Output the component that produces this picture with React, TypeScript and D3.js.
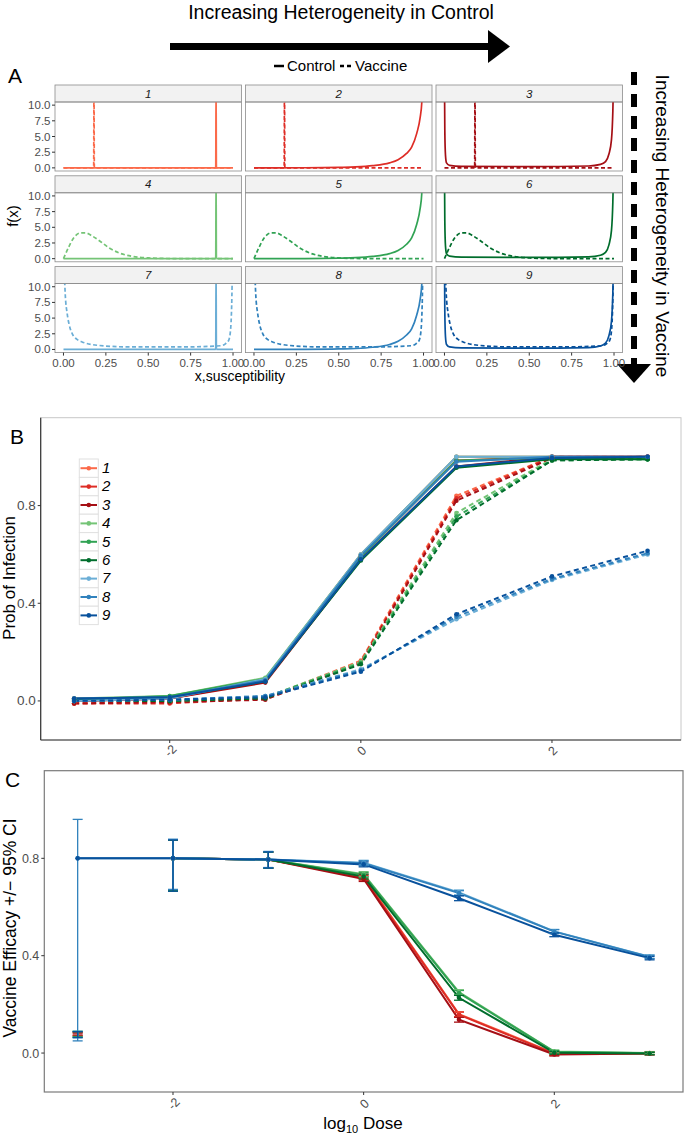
import React from "react";
import * as d3 from "d3";

const FONT = "'Liberation Sans', Arial, Helvetica, sans-serif";

// scenario labels and colours (reds / greens / blues)
const groups = ["1", "2", "3", "4", "5", "6", "7", "8", "9"];
const groupColors = ["#fb6a4a", "#de2d26", "#a50f15", "#74c476", "#31a354", "#006d2c", "#6baed6", "#3182bd", "#08519c"];

const ctrlPointMass = [[0, 0], [0.898, 0], [0.9, 14], [0.902, 0], [1, 0]];
const ctrlJShape = [[0, 0], [0.3, 0.02], [0.5, 0.08], [0.6, 0.15], [0.7, 0.35], [0.8, 0.8], [0.85, 1.3], [0.9, 2.3], [0.93, 3.3], [0.96, 5.5], [0.98, 8], [0.99, 10.5], [0.995, 14]];
const ctrlUShape = [[0.0, 14], [0.002, 6], [0.006, 2], [0.012, 0.8], [0.03, 0.4], [0.1, 0.25], [0.5, 0.2], [0.85, 0.3], [0.92, 0.55], [0.95, 1], [0.97, 2.2], [0.985, 4.5], [0.993, 9], [0.997, 14]];
const vaccPointMass = [[0, 0], [0.178, 0], [0.18, 14], [0.182, 0], [1, 0]];
const vaccBeta = [[0, 0], [0.03, 1.8], [0.06, 3.3], [0.1, 4.1], [0.13, 4.1], [0.17, 3.6], [0.22, 2.7], [0.27, 1.7], [0.33, 0.9], [0.4, 0.4], [0.5, 0.12], [0.6, 0.03], [0.75, 0], [1, 0]];
const vaccUShape = [[0.003, 14], [0.01, 9], [0.022, 5.7], [0.035, 3.8], [0.052, 2.5], [0.08, 1.6], [0.11, 1.2], [0.21, 0.64], [0.4, 0.4], [0.7, 0.4], [0.93, 0.6], [0.955, 0.9], [0.975, 1.5], [0.985, 3], [0.992, 7], [0.997, 14]];
const ctrlByColumn = [ctrlPointMass, ctrlJShape, ctrlUShape];
const vaccByRow = [vaccPointMass, vaccBeta, vaccUShape];
const densTicksY = [0, 2.5, 5, 7.5, 10];
const densTicksX = [0, 0.25, 0.5, 0.75, 1];

// panels B and C
const doses = [-3, -2, -1, 0, 1, 2, 3];
const doseTicks = [-2, 0, 2];
const probTicks = [0, 0.4, 0.8];

const probControl = [
  [0.01, 0.015, 0.09, 0.6, 1.0, 1.0, 1.0],
  [0.0, 0.01, 0.08, 0.59, 0.985, 1.0, 1.0],
  [0.0, 0.01, 0.075, 0.58, 0.96, 1.0, 1.0],
  [0.01, 0.02, 0.095, 0.6, 1.0, 1.0, 0.995],
  [0.005, 0.02, 0.09, 0.59, 0.985, 0.995, 0.99],
  [0.005, 0.015, 0.08, 0.575, 0.955, 0.99, 0.99],
  [0.0, 0.01, 0.09, 0.6, 1.0, 1.0, 1.0],
  [0.01, 0.015, 0.085, 0.595, 0.98, 1.0, 1.0],
  [0.01, 0.015, 0.08, 0.58, 0.96, 0.995, 1.0],
];
const probVaccine = [
  [-0.01, -0.005, 0.01, 0.165, 0.84, 1.0, 1.0],
  [-0.01, -0.01, 0.01, 0.16, 0.83, 1.0, 0.995],
  [-0.01, -0.005, 0.005, 0.155, 0.82, 0.995, 1.0],
  [0.0, 0.0, 0.015, 0.16, 0.77, 0.99, 0.99],
  [0.0, 0.0, 0.015, 0.155, 0.755, 0.985, 0.99],
  [0.0, 0.0, 0.01, 0.15, 0.74, 0.985, 0.99],
  [0.0, 0.005, 0.02, 0.13, 0.335, 0.495, 0.6],
  [0.0, 0.005, 0.02, 0.125, 0.345, 0.5, 0.605],
  [0.0, 0.005, 0.015, 0.12, 0.355, 0.51, 0.615],
];

const veMean = [
  [null, 0.8, 0.795, 0.725, 0.16, 0.0, 0.0],
  [null, 0.8, 0.795, 0.72, 0.158, -0.003, -0.002],
  [null, 0.8, 0.795, 0.715, 0.137, -0.006, -0.002],
  [null, 0.8, 0.795, 0.735, 0.25, 0.006, 0.0],
  [null, 0.8, 0.795, 0.732, 0.247, 0.005, -0.001],
  [null, 0.8, 0.795, 0.725, 0.227, 0.001, -0.002],
  [null, 0.8, 0.795, 0.782, 0.66, 0.5, 0.396],
  [0.8, 0.8, 0.795, 0.78, 0.657, 0.499, 0.395],
  [0.8, 0.8, 0.795, 0.775, 0.636, 0.486, 0.39],
];
const veLo = [
  [0.07, 0.668, 0.76, 0.715, 0.15, -0.008, -0.006],
  [0.072, 0.668, 0.76, 0.71, 0.148, -0.01, -0.007],
  [0.074, 0.668, 0.76, 0.705, 0.127, -0.012, -0.007],
  [0.068, 0.666, 0.76, 0.725, 0.24, 0.0, -0.005],
  [0.066, 0.666, 0.76, 0.722, 0.237, -0.001, -0.006],
  [0.064, 0.666, 0.76, 0.715, 0.217, -0.005, -0.007],
  [0.062, 0.672, 0.762, 0.772, 0.65, 0.492, 0.389],
  [0.05, 0.672, 0.762, 0.77, 0.647, 0.491, 0.388],
  [0.064, 0.665, 0.76, 0.765, 0.626, 0.478, 0.383],
];
const veHi = [
  [0.086, 0.875, 0.826, 0.735, 0.17, 0.008, 0.006],
  [0.084, 0.875, 0.826, 0.73, 0.168, 0.004, 0.003],
  [0.082, 0.875, 0.826, 0.725, 0.147, 0.0, 0.003],
  [0.088, 0.876, 0.826, 0.745, 0.26, 0.012, 0.005],
  [0.09, 0.876, 0.826, 0.742, 0.257, 0.011, 0.004],
  [0.088, 0.876, 0.826, 0.735, 0.237, 0.007, 0.003],
  [0.09, 0.878, 0.828, 0.792, 0.67, 0.508, 0.403],
  [0.96, 0.878, 0.828, 0.79, 0.667, 0.507, 0.402],
  [0.088, 0.875, 0.826, 0.785, 0.646, 0.494, 0.397],
];

export default function App() {
  const W = 685,
    H = 1136;

  // panel A facet grid
  const aLeft = 55,
    aStep = 190.5,
    aW = 186.5,
    aTop = 85,
    aRowStep = 90.8,
    stripH = 17,
    plotH = 69;
  const ax = d3.scaleLinear().domain([-0.05, 1.05]).range([0, aW]);
  const ay = d3.scaleLinear().domain([-0.5, 10.5]).range([plotH, 0]);
  const densLine = d3
    .line<number[]>()
    .x(d => ax(d[0]))
    .y(d => ay(d[1]))
    .curve(d3.curveMonotoneX);

  // panels B and C
  const bBox = { l: 40.7, r: 681, t: 417.7, b: 740 };
  const cBox = { l: 44.3, r: 683, t: 770.7, b: 1092 };
  const bx = d3.scaleLinear().domain([-3.35, 3.35]).range([bBox.l, bBox.r]);
  const by = d3.scaleLinear().domain([-0.16, 1.16]).range([bBox.b, bBox.t]);
  const cx = d3.scaleLinear().domain([-3.35, 3.35]).range([cBox.l, cBox.r]);
  const cy = d3.scaleLinear().domain([-0.16, 1.16]).range([cBox.b, cBox.t]);

  const bLine = d3
    .line<number>()
    .x((d, i) => bx(doses[i]))
    .y(d => by(d));
  const cLine = d3
    .line<number | null>()
    .defined(d => d !== null)
    .x((d, i) => cx(doses[i]))
    .y(d => cy(d as number));

  const tickGray = "#4d4d4d";

  return (
    <svg width={W} height={H} style={{ position: "absolute", left: 0, top: 0, background: "#fff" }} fontFamily={FONT}>
      <rect width={W} height={H} fill="#fff" />

      {/* header arrows */}
      <text x={341} y={19} fontSize={19.5} textAnchor="middle" fill="#000">
        Increasing Heterogeneity in Control
      </text>
      <line x1={170} x2={492} y1={46.5} y2={46.5} stroke="#000" strokeWidth={7} />
      <path d="M488,30 L510,46.5 L488,63 Z" fill="#000" />
      <line x1={274} x2={284} y1={66} y2={66} stroke="#000" strokeWidth={2.5} />
      <text x={287} y={71} fontSize={15}>Control</text>
      <line x1={340} x2={352} y1={66} y2={66} stroke="#000" strokeWidth={2.5} strokeDasharray="4,3" />
      <text x={355} y={71} fontSize={15}>Vaccine</text>
      <text x={8} y={83} fontSize={21}>A</text>

      <line x1={634} x2={634} y1={72} y2={368} stroke="#000" strokeWidth={6} strokeDasharray="13,9" />
      <path d="M617,364 L651,364 L634,383 Z" fill="#000" />
      <text transform="translate(656,226) rotate(90)" fontSize={19} textAnchor="middle">
        Increasing Heterogeneity in Vaccine
      </text>

      {/* panel A facets */}
      {groups.map((g, i) => {
        const col = i % 3,
          row = Math.floor(i / 3);
        const px = aLeft + col * aStep;
        const py = aTop + row * aRowStep;
        const color = groupColors[i];
        return (
          <g key={"f" + g}>
            <rect x={px} y={py} width={aW} height={stripH} fill="#f2f2f2" stroke="#8c8c8c" strokeWidth={0.8} />
            <text x={px + aW / 2} y={py + 12.5} fontSize={11.5} fontStyle="italic" textAnchor="middle" fill="#1a1a1a">
              {g}
            </text>
            <g transform={`translate(${px},${py + stripH})`}>
              <clipPath id={"clipA" + i}>
                <rect x={0} y={0} width={aW} height={plotH} />
              </clipPath>
              <g clipPath={`url(#clipA${i})`}>
                <path d={densLine(vaccByRow[row]) || ""} fill="none" stroke={color} strokeWidth={1.7} strokeDasharray="4,2.5" />
                <path d={densLine(ctrlByColumn[col]) || ""} fill="none" stroke={color} strokeWidth={1.7} />
              </g>
              <rect x={0} y={0} width={aW} height={plotH} fill="none" stroke="#8c8c8c" strokeWidth={0.8} />
              {col === 0 &&
                densTicksY.map(t => (
                  <g key={t}>
                    <line x1={-3} x2={0} y1={ay(t)} y2={ay(t)} stroke="#333" />
                    <text x={-4.5} y={ay(t) + 4} fontSize={11.5} textAnchor="end" fill={tickGray}>
                      {t.toFixed(1)}
                    </text>
                  </g>
                ))}
              {row === 2 &&
                densTicksX.map(t => (
                  <g key={t}>
                    <line x1={ax(t)} x2={ax(t)} y1={plotH} y2={plotH + 3} stroke="#333" />
                    <text x={ax(t)} y={plotH + 14} fontSize={11.5} textAnchor="middle" fill={tickGray}>
                      {t.toFixed(2)}
                    </text>
                  </g>
                ))}
            </g>
          </g>
        );
      })}
      <text transform="translate(18,216) rotate(-90)" fontSize={15} textAnchor="middle">
        f(x)
      </text>
      <text x={240} y={381} fontSize={14} textAnchor="middle">
        x,susceptibility
      </text>

      {/* panel B */}
      <text x={10} y={444} fontSize={21}>B</text>
      <rect x={bBox.l} y={bBox.t} width={bBox.r - bBox.l} height={bBox.b - bBox.t} fill="none" stroke="#c8c8c8" />
      <line x1={bBox.l} x2={bBox.l} y1={bBox.t} y2={bBox.b} stroke="#333" strokeWidth={1.2} />
      <line x1={bBox.l} x2={bBox.r} y1={bBox.b} y2={bBox.b} stroke="#333" strokeWidth={1.2} />
      {probTicks.map(t => (
        <g key={"by" + t}>
          <line x1={bBox.l - 3} x2={bBox.l} y1={by(t)} y2={by(t)} stroke="#333" />
          <text x={bBox.l - 5} y={by(t) + 4.5} fontSize={13.5} textAnchor="end" fill={tickGray}>
            {t.toFixed(1)}
          </text>
        </g>
      ))}
      {doseTicks.map(t => (
        <g key={"bx" + t}>
          <line x1={bx(t)} x2={bx(t)} y1={bBox.b} y2={bBox.b + 3} stroke="#333" />
          <text transform={`translate(${bx(t) + 1},${bBox.b + 11}) rotate(-45)`} fontSize={12.5} textAnchor="middle" dominantBaseline="central" fill={tickGray}>
            {t}
          </text>
        </g>
      ))}
      <text transform="translate(15,578) rotate(-90)" fontSize={17} textAnchor="middle">
        Prob of Infection
      </text>
      {groups.map((g, i) => (
        <g key={"bl" + g}>
          <path d={bLine(probControl[i]) || ""} fill="none" stroke={groupColors[i]} strokeWidth={2} />
          <path d={bLine(probVaccine[i]) || ""} fill="none" stroke={groupColors[i]} strokeWidth={2} strokeDasharray="5,3.5" />
        </g>
      ))}
      {groups.map((g, i) => (
        <g key={"bp" + g} fill={groupColors[i]}>
          {probControl[i].map((v, j) => (
            <circle key={"c" + j} cx={bx(doses[j])} cy={by(v)} r={2.3} />
          ))}
          {probVaccine[i].map((v, j) => (
            <circle key={"v" + j} cx={bx(doses[j])} cy={by(v)} r={2.3} />
          ))}
        </g>
      ))}
      {/* legend */}
      {groups.map((g, i) => {
        const ky = 459 + i * 18.4;
        return (
          <g key={"lg" + g}>
            <rect x={79.3} y={ky} width={19} height={18.4} fill="#fff" stroke="#e0e0e0" />
            <line x1={80.5} x2={97} y1={ky + 9.2} y2={ky + 9.2} stroke={groupColors[i]} strokeWidth={2} />
            <circle cx={88.8} cy={ky + 9.2} r={2.3} fill={groupColors[i]} />
            <text x={102} y={ky + 14} fontSize={15} fontStyle="italic">
              {g}
            </text>
          </g>
        );
      })}

      {/* panel C */}
      <text x={5} y={787} fontSize={21}>C</text>
      <rect x={cBox.l} y={cBox.t} width={cBox.r - cBox.l} height={cBox.b - cBox.t} fill="none" stroke="#7a7a7a" strokeWidth={1.2} />
      {probTicks.map(t => (
        <g key={"cy" + t}>
          <line x1={cBox.l - 3} x2={cBox.l} y1={cy(t)} y2={cy(t)} stroke="#333" />
          <text x={cBox.l - 5} y={cy(t) + 4.5} fontSize={12.5} textAnchor="end" fill={tickGray}>
            {t.toFixed(1)}
          </text>
        </g>
      ))}
      {doseTicks.map(t => (
        <g key={"cx" + t}>
          <line x1={cx(t)} x2={cx(t)} y1={cBox.b} y2={cBox.b + 3} stroke="#333" />
          <text transform={`translate(${cx(t) + 1},${cBox.b + 12}) rotate(-45)`} fontSize={12.5} textAnchor="middle" dominantBaseline="central" fill={tickGray}>
            {t}
          </text>
        </g>
      ))}
      <text transform="translate(16,928) rotate(-90)" fontSize={17.5} textAnchor="middle">
        Vaccine Efficacy +/− 95% CI
      </text>
      <text x={363} y={1129} fontSize={17} textAnchor="middle">
        log<tspan fontSize={11} dy={4}>10</tspan>
        <tspan dy={-4}> Dose</tspan>
      </text>
      {groups.map((g, i) => (
        <path key={"cl" + g} d={cLine(veMean[i]) || ""} fill="none" stroke={groupColors[i]} strokeWidth={2} />
      ))}
      {groups.map((g, i) => (
        <g key={"ce" + g} stroke={groupColors[i]} strokeWidth={1.3}>
          {doses.map((d, j) => (
            <g key={j}>
              <line x1={cx(d)} x2={cx(d)} y1={cy(veLo[i][j])} y2={cy(veHi[i][j])} />
              <line x1={cx(d) - 5} x2={cx(d) + 5} y1={cy(veLo[i][j])} y2={cy(veLo[i][j])} />
              <line x1={cx(d) - 5} x2={cx(d) + 5} y1={cy(veHi[i][j])} y2={cy(veHi[i][j])} />
            </g>
          ))}
        </g>
      ))}
      {groups.map((g, i) => (
        <g key={"cp" + g} fill={groupColors[i]}>
          {veMean[i].map((v, j) =>
            v === null ? null : <circle key={j} cx={cx(doses[j])} cy={cy(v)} r={2.3} />
          )}
        </g>
      ))}
    </svg>
  );
}
